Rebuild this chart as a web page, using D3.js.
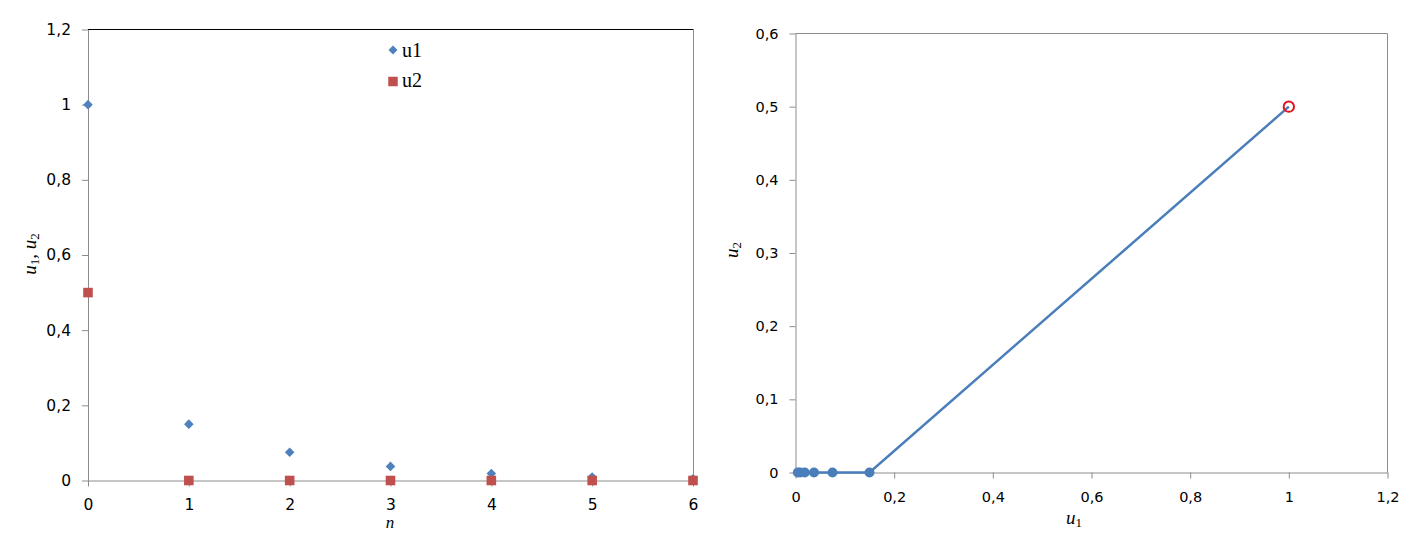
<!DOCTYPE html>
<html>
<head>
<meta charset="utf-8">
<script src="https://cdn.jsdelivr.net/npm/d3@7"></script>
<style>
  body { margin: 0; background: #fff; }
  .tick text { font-family: "DejaVu Sans", Verdana, sans-serif; fill: #000; }
  .lbl { font-family: "Liberation Serif", "Times New Roman", serif; font-style: italic; fill: #000; }
</style>
</head>
<body>
<div id="chart"></div>
<script>
// data
var n = [0, 1, 2, 3, 4, 5, 6];
var u1 = [1, 0.15, 0.075, 0.0375, 0.01875, 0.009375, 0.0047];
var u2 = [0.5, 0, 0, 0, 0, 0, 0];
var leftYTicks = [0, 0.2, 0.4, 0.6, 0.8, 1, 1.2];
var leftXTicks = [0, 1, 2, 3, 4, 5, 6];
var rightYTicks = [0, 0.1, 0.2, 0.3, 0.4, 0.5, 0.6];
var rightXTicks = [0, 0.2, 0.4, 0.6, 0.8, 1, 1.2];

var blue = "#4f81bd", red = "#c0504d", axisCol = "#8c8c8c";
var comma = function(d) { return String(d).replace(".", ","); };

var svg = d3.select("#chart").append("svg")
  .attr("width", 1428)
  .attr("height", 534);

// ---------- left chart: u1, u2 against n
var xL = d3.scaleLinear().domain([0, 6]).range([88, 693]);
var yL = d3.scaleLinear().domain([0, 1.2]).range([480.5, 29.5]);

// frame top / right
svg.append("line").attr("x1", 88).attr("x2", 693.5).attr("y1", 29.5).attr("y2", 29.5)
  .attr("stroke", "#000").attr("stroke-width", 1.2);
svg.append("line").attr("x1", 693.5).attr("x2", 693.5).attr("y1", 29.5).attr("y2", 480.5)
  .attr("stroke", axisCol);

var gxL = svg.append("g")
  .attr("transform", "translate(0," + yL(0) + ")")
  .call(d3.axisBottom(xL).tickValues(leftXTicks).tickFormat(comma).tickSize(6).tickSizeOuter(0).tickPadding(12));
var gyL = svg.append("g")
  .attr("transform", "translate(" + xL(0) + ",0)")
  .call(d3.axisLeft(yL).tickValues(leftYTicks).tickFormat(comma).tickSize(6).tickSizeOuter(0).tickPadding(11));

[gxL, gyL].forEach(function(g) {
  g.select(".domain").attr("stroke", axisCol);
  g.selectAll(".tick line").attr("stroke", axisCol);
  g.selectAll(".tick text").style("font-size", "15.5px");
});

// u1 diamonds
svg.selectAll(".u1")
  .data(n)
  .enter()
  .append("path")
  .attr("class", "u1")
  .attr("d", d3.symbol(d3.symbolSquare, 46)())
  .attr("transform", function(d, i) { return "translate(" + xL(d) + "," + yL(u1[i]) + ") rotate(45)"; })
  .attr("fill", blue);

// u2 squares
svg.selectAll(".u2")
  .data(n)
  .enter()
  .append("path")
  .attr("class", "u2")
  .attr("d", d3.symbol(d3.symbolSquare, 92)())
  .attr("transform", function(d, i) { return "translate(" + xL(d) + "," + yL(u2[i]) + ")"; })
  .attr("fill", red);

// legend
var legend = svg.append("g").attr("transform", "translate(393,0)");
legend.append("path")
  .attr("d", d3.symbol(d3.symbolSquare, 40)())
  .attr("transform", "translate(0,50) rotate(45)")
  .attr("fill", blue);
legend.append("path")
  .attr("d", d3.symbol(d3.symbolSquare, 90)())
  .attr("transform", "translate(0,81.5)")
  .attr("fill", red);
legend.append("text").attr("x", 9).attr("y", 56.5)
  .style("font-family", "'Liberation Serif', serif").style("font-size", "20px").text("u1");
legend.append("text").attr("x", 9).attr("y", 87)
  .style("font-family", "'Liberation Serif', serif").style("font-size", "20px").text("u2");

// axis titles
svg.append("text").attr("class", "lbl")
  .attr("x", 390).attr("y", 528).attr("text-anchor", "middle")
  .style("font-size", "17px").text("n");

var yt = svg.append("text").attr("class", "lbl")
  .attr("transform", "translate(36,254) rotate(-90)")
  .attr("text-anchor", "middle")
  .style("font-size", "19px");
yt.append("tspan").text("u");
yt.append("tspan").attr("baseline-shift", "-25%").style("font-size", "13px").style("font-style", "normal").text("1");
yt.append("tspan").text(", u");
yt.append("tspan").attr("baseline-shift", "-25%").style("font-size", "13px").style("font-style", "normal").text("2");

// ---------- right chart: u2 against u1
var xR = d3.scaleLinear().domain([0, 1.2]).range([795.5, 1387.5]);
var yR = d3.scaleLinear().domain([0, 0.6]).range([472.5, 33.5]);

svg.append("line").attr("x1", 795.5).attr("x2", 1387.5).attr("y1", 33.5).attr("y2", 33.5)
  .attr("stroke", axisCol);
svg.append("line").attr("x1", 1387.5).attr("x2", 1387.5).attr("y1", 33.5).attr("y2", 472.5)
  .attr("stroke", axisCol);

var gxR = svg.append("g")
  .attr("transform", "translate(0," + yR(0) + ")")
  .call(d3.axisBottom(xR).tickValues(rightXTicks).tickFormat(comma).tickSize(6).tickSizeOuter(0).tickPadding(13));
var gyR = svg.append("g")
  .attr("transform", "translate(" + xR(0) + ",0)")
  .call(d3.axisLeft(yR).tickValues(rightYTicks).tickFormat(comma).tickSize(6).tickSizeOuter(0).tickPadding(11));

[gxR, gyR].forEach(function(g) {
  g.select(".domain").attr("stroke", axisCol);
  g.selectAll(".tick line").attr("stroke", axisCol);
  g.selectAll(".tick text").style("font-size", "14.5px");
});

var pts = u1.map(function(d, i) { return [d, u2[i]]; });

var line = d3.line()
  .x(function(d) { return xR(d[0]); })
  .y(function(d) { return yR(d[1]); });

svg.append("path")
  .datum(pts)
  .attr("d", line)
  .attr("fill", "none")
  .attr("stroke", "#4a7ebb")
  .attr("stroke-width", 2.5);

svg.selectAll(".dot")
  .data(pts.slice(1))
  .enter()
  .append("circle")
  .attr("class", "dot")
  .attr("cx", function(d) { return xR(d[0]); })
  .attr("cy", function(d) { return yR(d[1]); })
  .attr("r", 5)
  .attr("fill", "#4a7ebb");

svg.append("circle")
  .attr("cx", xR(pts[0][0]))
  .attr("cy", yR(pts[0][1]))
  .attr("r", 5.2)
  .attr("fill", "none")
  .attr("stroke", "#e0141e")
  .attr("stroke-width", 2);

var xr = svg.append("text").attr("class", "lbl")
  .attr("x", 1074).attr("y", 524).attr("text-anchor", "middle")
  .style("font-size", "19px");
xr.append("tspan").text("u");
xr.append("tspan").attr("baseline-shift", "-25%").style("font-size", "13px").style("font-style", "normal").text("1");

var yr = svg.append("text").attr("class", "lbl")
  .attr("transform", "translate(738,250) rotate(-90)")
  .attr("text-anchor", "middle")
  .style("font-size", "19px");
yr.append("tspan").text("u");
yr.append("tspan").attr("baseline-shift", "-25%").style("font-size", "13px").style("font-style", "normal").text("2");
</script>
</body>
</html>
